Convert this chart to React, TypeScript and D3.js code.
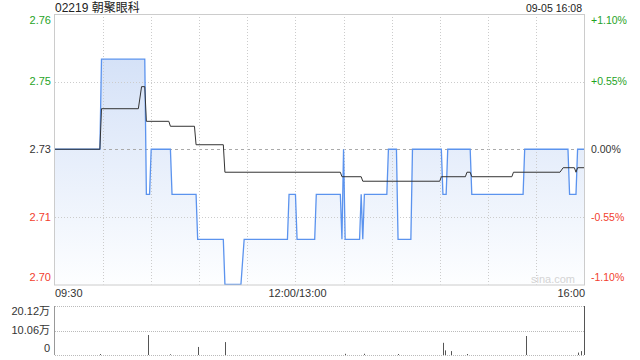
import React from "react";
import * as d3 from "d3";

const title = "02219 朝聚眼科";
const stamp = "09-05 16:08";
const prevClose = 2.73;
const pctRange = 0.011;

// blue price line: key points (minute index from 09:30, price)
const priceMinutes = [0, 28, 29, 56, 57, 59, 60, 72, 73, 88, 89, 105, 106, 116, 118, 145, 146, 150, 151, 162, 163, 178, 179, 180, 181, 190, 191, 192, 193, 207, 208, 213, 214, 222, 223, 241, 242, 244, 245, 259, 260, 292, 293, 320, 321, 325, 326, 330];
const priceValues = [2.73, 2.73, 2.75, 2.75, 2.72, 2.72, 2.73, 2.73, 2.72, 2.72, 2.71, 2.71, 2.70, 2.70, 2.71, 2.71, 2.72, 2.72, 2.71, 2.71, 2.72, 2.72, 2.71, 2.73, 2.71, 2.71, 2.72, 2.71, 2.72, 2.72, 2.73, 2.73, 2.71, 2.71, 2.73, 2.73, 2.72, 2.72, 2.73, 2.73, 2.72, 2.72, 2.73, 2.73, 2.72, 2.72, 2.73, 2.73];

// average price line key points
const avgMinutes = [0, 28, 29, 52, 54, 56, 57, 71, 72, 87, 88, 105, 106, 178, 179, 191, 192, 240, 241, 256, 257, 259, 260, 285, 286, 315, 317, 324, 325, 326, 330];
const avgValues = [2.73, 2.73, 2.739, 2.739, 2.7439, 2.7439, 2.7362, 2.7362, 2.7351, 2.7351, 2.731, 2.731, 2.7249, 2.7249, 2.7239, 2.7239, 2.7229, 2.7229, 2.7239, 2.7239, 2.7249, 2.7249, 2.7239, 2.7239, 2.7249, 2.7249, 2.7259, 2.7259, 2.7249, 2.7259, 2.7259];

// volume (万股)
const volMinutes = [28, 58, 72, 89, 106, 181, 193, 214, 242, 243, 247, 257, 294, 326, 328, 330];
const volValues = [0.4, 8.2, 0.3, 3.3, 5.3, 0.5, 0.5, 0.4, 5.0, 1.9, 1.6, 0.4, 7.8, 1.0, 1.6, 20.12];
const volTicks = [0, 10.06, 20.12];
const volTickLabels = ["0", "10.06万", "20.12万"];

const priceTickLabels = ["2.76", "2.75", "2.73", "2.71", "2.70"];
const pctTickLabels = ["+1.10%", "+0.55%", "0.00%", "-0.55%", "-1.10%"];
const timeLabels = ["09:30", "12:00/13:00", "16:00"];
const timeLabelMinutes = [0, 150, 330];

const W = 640, H = 360;
const L = 55, R = 584, T = 14, B = 284.5;
const VT = 306, VB = 355;
const FONT = "'Liberation Sans', Arial, 'Noto Sans CJK SC', sans-serif";
const GREEN = "#1fa31f";
const RED = "#f2402e";

export default function App() {
  const x = d3.scaleLinear().domain([0, 330]).range([L, R]);
  const yMin = prevClose * (1 - pctRange);
  const yMax = prevClose * (1 + pctRange);
  const y = d3.scaleLinear().domain([yMin, yMax]).range([B, T]);
  const vy = d3.scaleLinear().domain([0, 20.12]).range([VB, VT]);

  const pricePts = priceMinutes.map((m, i) => [m, priceValues[i]] as [number, number]);
  const avgPts = avgMinutes.map((m, i) => [m, avgValues[i]] as [number, number]);

  const line = d3.line<[number, number]>().x(d => x(d[0])).y(d => y(d[1]));
  const area = d3.area<[number, number]>().x(d => x(d[0])).y0(B).y1(d => y(d[1]));

  const gridVals = [yMax, prevClose * (1 + pctRange / 2), prevClose, prevClose * (1 - pctRange / 2), yMin];
  const labelColors = [GREEN, GREEN, "#333", RED, RED];
  const labelOffsets = [6, 0, 0, 0, -7];
  const volLabelOffsets = [-7, 0, 5];
  const vGrid = d3.range(30, 330, 30);

  return (
    <div style={{ position: "absolute", left: 0, top: 0 }}>
      <svg width={W} height={H} style={{ display: "block", fontFamily: FONT }}>
        <defs>
          <linearGradient id="fillg" gradientUnits="userSpaceOnUse" x1="0" y1={T} x2="0" y2={B}>
            <stop offset="0%" stopColor="#cddcf6" />
            <stop offset="100%" stopColor="#fdfeff" />
          </linearGradient>
        </defs>
        <rect width={W} height={H} fill="#fff" />
        <text x={L} y={12} fontSize={12} fill="#222">{title}</text>
        <text x={R - 2} y={12} fontSize={10.5} fill="#222" textAnchor="end">{stamp}</text>

        <path d={area(pricePts) || ""} fill="url(#fillg)" />

        {gridVals.map((v, i) =>
          i === 0 || i === 4 ? null : (
            <line key={"h" + i} x1={L} x2={R} y1={Math.round(y(v)) + 0.5} y2={Math.round(y(v)) + 0.5}
              stroke={i === 2 ? "#aaa" : "#ccc"} strokeDasharray={i === 2 ? "3,3" : "1,2"} />
          )
        )}
        {vGrid.map(m => (
          <line key={"v" + m} x1={Math.round(x(m)) + 0.5} x2={Math.round(x(m)) + 0.5} y1={T} y2={B}
            stroke="#ccc" strokeDasharray="1,2" />
        ))}

        <path d={line(pricePts) || ""} fill="none" stroke="#5b93ee" strokeWidth={1.3} />
        <path d={line(avgPts) || ""} fill="none" stroke="#333" strokeWidth={1} />

        <rect x={L - 0.5} y={T + 0.5} width={R - L + 1} height={B - T} fill="none" stroke="#ccc" />

        {gridVals.map((v, i) => (
          <g key={"l" + i}>
            <text x={51} y={y(v) + labelOffsets[i]} dy="0.35em" fontSize={11} textAnchor="end" fill={labelColors[i]}>
              {priceTickLabels[i]}
            </text>
            <text x={591} y={y(v) + labelOffsets[i]} dy="0.35em" fontSize={10.5} fill={labelColors[i]}>
              {pctTickLabels[i]}
            </text>
          </g>
        ))}

        <text x={553} y={279} dy="0.35em" fontSize={11} fill="#d4d4d4" textAnchor="middle">sina.com</text>

        {timeLabels.map((t, i) => (
          <text key={t} x={x(timeLabelMinutes[i]) + (i === 1 ? 2 : i === 2 ? 1 : 0)} y={293} dy="0.35em" fontSize={11} fill="#333"
            textAnchor={i === 0 ? "start" : i === 1 ? "middle" : "end"}>{t}</text>
        ))}

        {volTicks.map((v, i) => (
          <g key={"vt" + i}>
            <line x1={L} x2={R} y1={Math.round(vy(v)) + 0.5} y2={Math.round(vy(v)) + 0.5} stroke="#bbb" strokeDasharray="1,1" />
            <text x={50} y={vy(v) + volLabelOffsets[i]} dy="0.35em" fontSize={11} textAnchor="end" fill="#333">{volTickLabels[i]}</text>
          </g>
        ))}
        <line x1={L - 0.5} x2={L - 0.5} y1={VT} y2={VB} stroke="#999" />
        {volMinutes.map((m, i) => (
          <line key={"vb" + i} x1={Math.round(x(m)) + 0.5} x2={Math.round(x(m)) + 0.5}
            y1={VB} y2={vy(volValues[i])} stroke="#555" strokeWidth={1} />
        ))}
      </svg>
    </div>
  );
}
